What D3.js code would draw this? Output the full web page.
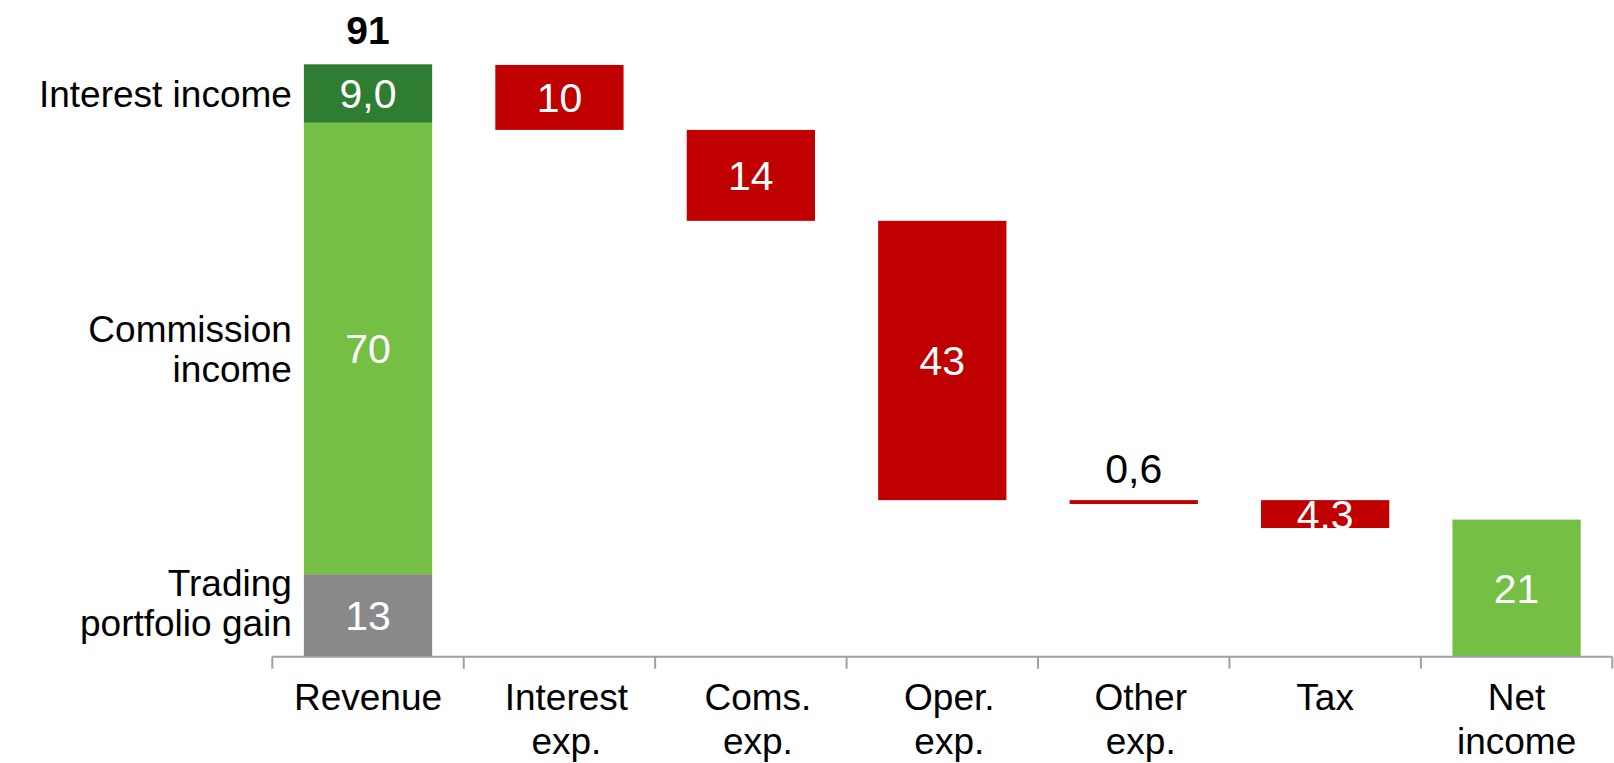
<!DOCTYPE html>
<html>
<head>
<meta charset="utf-8">
<script src="https://cdn.jsdelivr.net/npm/d3@7"></script>
<style>
  html, body { margin: 0; padding: 0; background: #fff; }
  svg { display: block; font-family: "Liberation Sans", Arial, sans-serif; }
</style>
</head>
<body>
<svg id="chart" width="1614" height="763"></svg>
<script>
// Income statement waterfall (values in millions)
const categories = ["Revenue", "Interest exp.", "Coms. exp.", "Oper. exp.", "Other exp.", "Tax", "Net income"];
const categoryLines = [["Revenue"], ["Interest", "exp."], ["Coms.", "exp."], ["Oper.", "exp."], ["Other", "exp."], ["Tax"], ["Net", "income"]];

// Revenue breakdown, stacked bottom to top
const revenueParts = ["Trading portfolio gain", "Commission income", "Interest income"];
const revenuePartLines = [["Trading", "portfolio gain"], ["Commission", "income"], ["Interest income"]];
const revenueValues = [12.6, 69.5, 9.0];
const revenueColors = ["#898989", "#74bf44", "#2e7d32"];

// Expense steps: level each step starts from and the amount taken off
const stepCategories = ["Interest exp.", "Coms. exp.", "Oper. exp.", "Other exp.", "Tax"];
const stepStarts = [91, 81, 67, 24, 24];
const stepValues = [10, 14, 43, 0.6, 4.3];
const stepDecimal = [",", ",", ",", ",", "."];

const netIncome = 21;

const svg = d3.select("#chart");

const x = d3.scaleBand()
  .domain(categories)
  .range([272.3, 1612.3])
  .padding(0);
const barWidth = x.bandwidth() * 0.67;
const barX = c => x(c) + (x.bandwidth() - barWidth) / 2;

const y = d3.scaleLinear().domain([0, 100]).range([656, 6.5]);

// two significant digits, one for values below 1
const fmt2 = (v, sep) => d3.format(v < 1 ? ".1r" : ".2r")(v).replace(".", sep || ",");

const labelFont = 41;
const catFont = 37;

// Revenue stack
let acc = 0;
const stack = revenueValues.map((v, i) => {
  const s = { name: revenueParts[i], lines: revenuePartLines[i], y0: acc, y1: acc + v, v, color: revenueColors[i] };
  acc += v;
  return s;
});
const revenueTotal = acc;

const g = svg.append("g");

g.selectAll("rect.rev")
  .data(stack)
  .join("rect")
  .attr("class", "rev")
  .attr("x", barX("Revenue"))
  .attr("width", barWidth)
  .attr("y", d => y(d.y1))
  .attr("height", d => y(d.y0) - y(d.y1))
  .attr("fill", d => d.color);

g.selectAll("text.revval")
  .data(stack)
  .join("text")
  .attr("class", "revval")
  .attr("x", barX("Revenue") + barWidth / 2)
  .attr("y", d => (y(d.y0) + y(d.y1)) / 2)
  .attr("dy", "0.36em")
  .attr("text-anchor", "middle")
  .attr("fill", "#fff")
  .attr("font-size", labelFont)
  .text(d => fmt2(d.v));

// Total above the revenue bar
g.append("text")
  .attr("x", barX("Revenue") + barWidth / 2)
  .attr("y", y(revenueTotal) - 20)
  .attr("text-anchor", "middle")
  .attr("font-weight", "bold")
  .attr("font-size", 39)
  .attr("fill", "#000")
  .text(fmt2(revenueTotal));

// Segment names to the left of the revenue bar
const lineH = 40;
stack.forEach(d => {
  const n = d.lines.length;
  let cy = (y(d.y0) + y(d.y1)) / 2;
  const maxBottom = y(0) - 13;
  if (cy + n * lineH / 2 > maxBottom) cy = maxBottom - n * lineH / 2;
  const t = g.append("text")
    .attr("text-anchor", "end")
    .attr("font-size", catFont)
    .attr("fill", "#000");
  d.lines.forEach((ln, i) => {
    t.append("tspan")
      .attr("x", barX("Revenue") - 12)
      .attr("y", cy + (i - (n - 1) / 2) * lineH)
      .attr("dy", "0.36em")
      .text(ln);
  });
});

// Expense steps
const steps = stepCategories.map((c, i) => ({
  c, top: stepStarts[i], bottom: stepStarts[i] - stepValues[i], v: stepValues[i], sep: stepDecimal[i]
}));
const isThin = d => (y(d.bottom) - y(d.top)) < 10;

g.selectAll("rect.step")
  .data(steps)
  .join("rect")
  .attr("class", "step")
  .attr("x", d => barX(d.c))
  .attr("width", barWidth)
  .attr("y", d => y(d.top))
  .attr("height", d => y(d.bottom) - y(d.top))
  .attr("fill", "#c00000");

g.selectAll("text.stepval")
  .data(steps)
  .join("text")
  .attr("class", "stepval")
  .attr("x", d => barX(d.c) + barWidth / 2)
  .attr("y", d => isThin(d) ? y(d.top) - 17 : (y(d.top) + y(d.bottom)) / 2)
  .attr("dy", d => isThin(d) ? "0" : "0.36em")
  .attr("text-anchor", "middle")
  .attr("fill", d => isThin(d) ? "#000" : "#fff")
  .attr("font-size", labelFont)
  .text(d => fmt2(d.v, d.sep));

// Net income
g.append("rect")
  .attr("x", barX("Net income"))
  .attr("width", barWidth)
  .attr("y", y(netIncome))
  .attr("height", y(0) - y(netIncome))
  .attr("fill", "#74bf44");

g.append("text")
  .attr("x", barX("Net income") + barWidth / 2)
  .attr("y", (y(0) + y(netIncome)) / 2)
  .attr("dy", "0.36em")
  .attr("text-anchor", "middle")
  .attr("fill", "#fff")
  .attr("font-size", labelFont)
  .text(fmt2(netIncome));

// Category axis with ticks at band boundaries
const axisY = y(0) + 0.7;
const axis = svg.append("g").attr("stroke", "#a0a0a0").attr("stroke-width", 2);
axis.append("line")
  .attr("x1", x.range()[0]).attr("x2", x.range()[1])
  .attr("y1", axisY).attr("y2", axisY);
const bounds = categories.map(c => x(c)).concat([x.range()[1]]);
axis.selectAll("line.tick")
  .data(bounds)
  .join("line")
  .attr("class", "tick")
  .attr("x1", d => d).attr("x2", d => d)
  .attr("y1", axisY).attr("y2", axisY + 12);

const cat = svg.append("g");
categories.forEach((c, i) => {
  const lines = categoryLines[i];
  // expense labels sit slightly right of the band centre
  const dx = lines[1] === "exp." ? 7 : 0;
  const t = cat.append("text")
    .attr("text-anchor", "middle")
    .attr("font-size", catFont)
    .attr("fill", "#000");
  lines.forEach((ln, j) => {
    t.append("tspan")
      .attr("x", x(c) + x.bandwidth() / 2 + dx)
      .attr("y", 710 + j * 44)
      .text(ln);
  });
});
</script>
</body>
</html>
